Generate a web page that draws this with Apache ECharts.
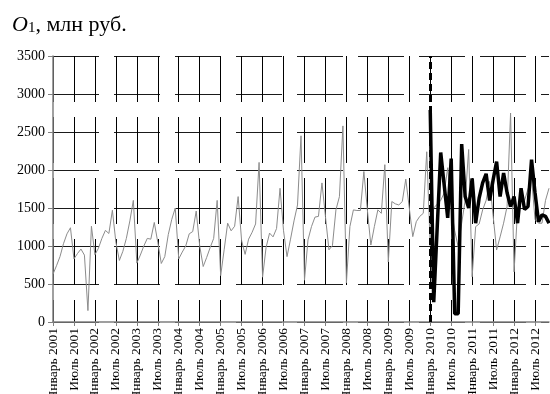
<!DOCTYPE html>
<html>
<head>
<meta charset="utf-8">
<script src="https://cdn.jsdelivr.net/npm/echarts@6/dist/echarts.min.js"></script>
<style>
  html, body { margin: 0; padding: 0; background: #fff; }
  #main { width: 550px; height: 394px; }
</style>
</head>
<body>
<div id="main"></div>
<script>
var monthNames = ['Январь', 'Февраль', 'Март', 'Апрель', 'Май', 'Июнь',
  'Июль', 'Август', 'Сентябрь', 'Октябрь', 'Ноябрь', 'Декабрь'];
var years = [2001, 2002, 2003, 2004, 2005, 2006, 2007, 2008, 2009, 2010, 2011, 2012];
var monthCount = 143; // январь 2001 - ноябрь 2012

// фактические значения O1, млн руб. (серая линия)
var fact = [
  630, 740, 860, 1030, 1160, 1240, 830, 900, 960, 880, 150, 1260,
  885, 970, 1100, 1205, 1165, 1470, 1050, 810, 930, 1100, 1330, 1600,
  775, 880, 1000, 1100, 1090, 1310, 1050, 770, 860, 1150, 1350, 1500,
  830, 920, 1000, 1160, 1190, 1460, 1000, 730, 850, 980, 1100, 1600,
  610, 950, 1300, 1200, 1260, 1650, 1070, 890, 1090, 1180, 1290, 2100,
  590, 980, 1170, 1120, 1230, 1760, 1200, 860, 1090, 1330, 1540, 2450,
  550, 1080, 1255, 1380, 1390, 1830, 1390, 950, 1005, 1475, 1650, 2580,
  515, 1255, 1475, 1467, 1467, 1980, 1475, 1013, 1255, 1475, 1430, 2070,
  790, 1585, 1555, 1540, 1585, 1880, 1500, 1123, 1320, 1390, 1430, 2240,
  1000, 1500, 1550, 1600, 1700, 2030, 1500, 1200, 990, 1300, 1600, 2270,
  595, 1255, 1290, 1475, 1600, 1850, 1400, 947, 1120, 1300, 1520, 2750,
  660, 1475, 1650, 1600, 1750, 1900, 1350, 1300, 1300, 1600, 1760
];

// модельные значения с января 2010 (чёрная линия)
var modelStart = 'Январь 2010';
var model = [
  2790, 260, 1250, 2230, 1800, 1370, 2150, 110, 110, 2340, 1650, 1500,
  1890, 1300, 1630, 1830, 1950, 1600, 1870, 2110, 1650, 1960, 1700, 1520,
  1650, 1300, 1760, 1480, 1520, 2135, 1700, 1320, 1410, 1390, 1300
];

var yMin = 0, yMax = 3500, yStep = 500;

var categories = [];
years.forEach(function (y) {
  monthNames.forEach(function (m) {
    if (categories.length < monthCount) categories.push(m + ' ' + y);
  });
});

var startIdx = categories.indexOf(modelStart);
var modelSeries = categories.map(function (c, i) {
  var k = i - startIdx;
  return (k >= 0 && k < model.length) ? model[k] : null;
});

var font = 'Liberation Serif';
var myChart = echarts.init(document.getElementById('main'), null, { renderer: 'canvas' });

var option = {
  animation: false,
  backgroundColor: '#fff',
  title: {
    text: '{i|O}{s|1}{t|, млн руб.}',
    left: 7,
    top: 9,
    textStyle: {
      fontFamily: font,
      fontSize: 22,
      fontWeight: 'normal',
      color: '#000',
      rich: {
        i: { fontFamily: font, fontSize: 22, fontStyle: 'italic', color: '#000' },
        s: { fontFamily: font, fontSize: 15, color: '#000', verticalAlign: 'bottom', padding: [7, 0, 0, 0] },
        t: { fontFamily: font, fontSize: 22, color: '#000' }
      }
    }
  },
  grid: {
    left: 53,
    top: 56,
    right: 1,
    bottom: 72,
    containLabel: false,
    outerBoundsMode: 'none'
  },
  xAxis: {
    type: 'category',
    boundaryGap: false,
    data: categories,
    axisLine: { show: true, lineStyle: { color: '#808080', width: 1.5 } },
    axisTick: { show: true, interval: 5, length: 4, lineStyle: { color: '#808080' } },
    axisLabel: {
      interval: 5,
      rotate: 90,
      margin: 6,
      fontFamily: font,
      fontSize: 13.5,
      color: '#000'
    },
    splitLine: {
      show: true,
      interval: 5,
      lineStyle: { color: '#000', width: 1, type: [46, 15] }
    }
  },
  yAxis: {
    type: 'value',
    min: yMin,
    max: yMax,
    interval: yStep,
    axisLine: { show: true, lineStyle: { color: '#808080', width: 1.5 } },
    axisTick: { show: true, length: 5, lineStyle: { color: '#808080' } },
    axisLabel: {
      margin: 8,
      fontFamily: font,
      fontSize: 14,
      color: '#000',
      formatter: function (v) { return String(v); }
    },
    splitLine: {
      show: true,
      lineStyle: { color: '#1a1a1a', width: 1, type: [46, 15] }
    }
  },
  series: [{
    name: 'факт',
    type: 'line',
    data: fact,
    symbol: 'none',
    lineStyle: { color: '#8c8c8c', width: 1 },
    z: 2
  }, {
    name: 'модель',
    type: 'line',
    data: modelSeries,
    symbol: 'none',
    lineStyle: { color: '#000', width: 3.5 },
    z: 3,
    markLine: {
      silent: true,
      symbol: 'none',
      label: { show: false },
      lineStyle: { color: '#000', width: 3, type: [7, 4] },
      data: [{ xAxis: modelStart }]
    }
  }]
};

myChart.setOption(option);
</script>
</body>
</html>
